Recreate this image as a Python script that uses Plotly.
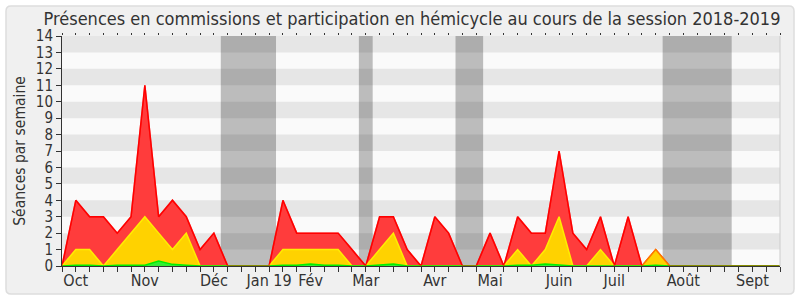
import plotly.graph_objects as go

# week index 0..52
semaines = list(range(53))
presences = [0, 4, 3, 3, 2, 3, 11, 3, 4, 3, 1, 2, 0, 0, 0, 0, 4, 2, 2, 2, 2, 1, 0, 3, 3, 1, 0,
             3, 2, 0, 0, 2, 0, 3, 2, 2, 7, 2, 1, 3, 0, 3, 0, 1, 0, 0, 0, 0, 0, 0, 0, 0, 0]
commissions = [0, 1, 1, 0, 1, 2, 3, 2, 1, 2, 0, 0, 0, 0, 0, 0, 1, 1, 1, 1, 1, 0, 0, 1, 2, 0, 0,
               0, 0, 0, 0, 0, 0, 1, 0, 1, 3, 0, 0, 1, 0, 0, 0, 1, 0, 0, 0, 0, 0, 0, 0, 0, 0]
questions = [0, 0.05, 0.05, 0, 0.05, 0.05, 0.05, 0.3, 0.1, 0.05, 0, 0, 0, 0, 0, 0, 0.05, 0.05, 0.12, 0.05, 0.05, 0, 0, 0.05, 0.12, 0, 0,
             0, 0, 0, 0, 0, 0, 0.05, 0.05, 0.12, 0.05, 0, 0, 0, 0, 0, 0, 0.05, 0, 0, 0, 0, 0, 0, 0, 0, 0]
mois_pos = [1, 6, 11, 15, 18, 22, 27, 31, 36, 40, 45, 50]
mois_txt = ["Oct", "Nov", "Déc", "Jan 19", "Fév", "Mar", "Avr", "Mai", "Juin", "Juil", "Août", "Sept"]
vacances = [(11.5, 15.5), (21.5, 22.5), (28.5, 30.5), (43.5, 48.5)]

ticktext = []
for s in semaines:
    ticktext.append(mois_txt[mois_pos.index(s)] if s in mois_pos else "")

FONT = "DejaVu Sans Condensed, DejaVu Sans"
fig = go.Figure()
fig.add_trace(go.Scatter(x=semaines, y=presences, mode="lines", fill="tozeroy",
                         fillcolor="#ff3c3c", line=dict(color="#ff0000", width=1.5), hoverinfo="skip"))
fig.add_trace(go.Scatter(x=semaines, y=commissions, mode="lines", fill="tozeroy",
                         fillcolor="#ffd200", line=dict(color="#ffee00", width=1.5), hoverinfo="skip"))
fig.add_trace(go.Scatter(x=semaines, y=questions, mode="lines", fill="tozeroy",
                         fillcolor="#33ee33", line=dict(color="#00ee00", width=1.5), hoverinfo="skip"))
fig.add_trace(go.Scatter(x=semaines, y=presences, mode="lines",
                         line=dict(color="rgba(255,0,0,0.5)", width=1.5), hoverinfo="skip"))

shapes = []
# outer rounded box (paper coords)
W, H = 718.0, 230.0
def px(xp):
    return (xp - 62) / W
def py(yp):
    return (266 - yp) / H
x0, x1, y0, y1, r = 6, 794, 6, 294, 5
path = (f"M {px(x0+r)},{py(y0)} L {px(x1-r)},{py(y0)} Q {px(x1)},{py(y0)} {px(x1)},{py(y0+r)} "
        f"L {px(x1)},{py(y1-r)} Q {px(x1)},{py(y1)} {px(x1-r)},{py(y1)} "
        f"L {px(x0+r)},{py(y1)} Q {px(x0)},{py(y1)} {px(x0)},{py(y1-r)} "
        f"L {px(x0)},{py(y0+r)} Q {px(x0)},{py(y0)} {px(x0+r)},{py(y0)} Z")
shapes.append(dict(type="path", path=path, xref="paper", yref="paper", layer="below",
                   fillcolor="#f0f0f0", line=dict(color="#dddddd", width=1.5)))
shapes.append(dict(type="rect", xref="x", yref="y", x0=0, x1=52, y0=0, y1=14,
                   fillcolor="#fafafa", line=dict(width=0), layer="below"))
for a, b in vacances:
    shapes.append(dict(type="rect", xref="x", yref="y", x0=a, x1=b, y0=0, y1=14,
                       fillcolor="#bcbcbc", line=dict(width=0), layer="below"))
for k in range(1, 14, 2):
    shapes.append(dict(type="rect", xref="x", yref="y", x0=0, x1=52, y0=k, y1=k + 1,
                       fillcolor="rgba(0,0,0,0.08)", line=dict(width=0), layer="below"))
shapes.append(dict(type="line", xref="paper", yref="paper", x0=1, x1=1, y0=0, y1=1,
                   line=dict(color="#cccccc", width=1)))

fig.update_layout(
    width=800, height=300,
    margin=dict(l=62, r=20, t=36, b=34),
    paper_bgcolor="white", plot_bgcolor="#fafafa",
    showlegend=False,
    shapes=shapes,
    title=dict(text="Présences en commissions et participation en hémicycle au cours de la session 2018-2019",
               x=412 / 800, xanchor="center", y=1 - 19 / 300, yanchor="middle",
               font=dict(family=FONT, size=18, color="#333333")),
    xaxis=dict(range=[0, 52], tickvals=semaines, ticktext=ticktext, ticks="outside", ticklen=5,
               tickcolor="#333333", showgrid=False, zeroline=False, showline=True, linecolor="#333333",
               linewidth=1, automargin=False, ticklabelstandoff=-5,
               tickfont=dict(family=FONT, size=16, color="#333333")),
    xaxis2=dict(range=[0, 52], overlaying="x", side="top", tickvals=semaines, ticks="outside",
                ticklen=2, tickcolor="#333333", showticklabels=False, showgrid=False,
                zeroline=False, showline=False, automargin=False),
    yaxis=dict(range=[0, 14], tickvals=list(range(15)), ticks="outside", ticklen=5,
               tickcolor="#333333", showgrid=False, zeroline=False, showline=True, linecolor="#333333",
               linewidth=1, automargin=False, tickfont=dict(family=FONT, size=15, color="#333333"),
               title=dict(text="Séances par semaine", font=dict(family=FONT, size=15.5, color="#333333"),
                          standoff=6)),
)
fig.add_trace(go.Scatter(x=[0, 52], y=[None, None], xaxis="x2", mode="lines", hoverinfo="skip"))
fig.write_html("out.html")
